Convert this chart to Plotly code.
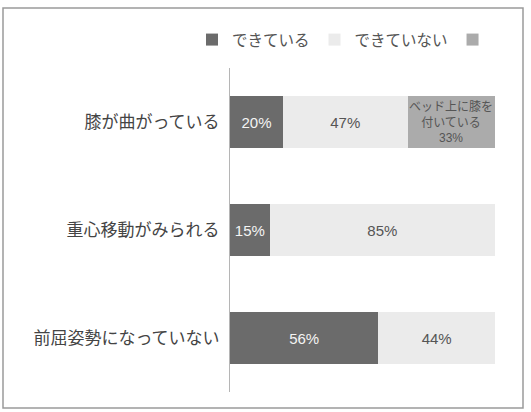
import plotly.graph_objects as go

# Survey items (top to bottom) and the share of each response, in percent
items = ["膝が曲がっている", "重心移動がみられる", "前屈姿勢になっていない"]
done = [20, 15, 56]
not_done = [47, 85, 44]
knee_on_bed = [33, None, None]

series_names = ["できている", "できていない", " "]
knee_label = "ベッド上に膝を<br>付いている<br>"

W, H = 531, 412
L, R, T, B = 230, 36, 68, 20
plot_w = W - L - R
plot_h = H - T - B


def px_x(x):
    return (x - L) / plot_w


def px_y(y):
    return (H - B - y) / plot_h


FONT = "Liberation Sans, Arial, Noto Sans CJK JP, sans-serif"

fig = go.Figure()
fig.add_trace(go.Bar(
    y=items, x=done, orientation="h", name=series_names[0],
    marker=dict(color="#6b6b6b", line=dict(width=0)),
    text=[f"{v}%" for v in done], textposition="inside",
    insidetextanchor="middle", textangle=0,
    textfont=dict(color="#f4f4f4", size=15, family=FONT),
))
fig.add_trace(go.Bar(
    y=items, x=not_done, orientation="h", name=series_names[1],
    marker=dict(color="#ebebeb", line=dict(width=0)),
    text=[f"{v}%" for v in not_done], textposition="inside",
    insidetextanchor="middle", textangle=0,
    textfont=dict(color="#555555", size=15, family=FONT),
))
fig.add_trace(go.Bar(
    y=items, x=knee_on_bed, orientation="h", name=series_names[2],
    marker=dict(color="#ababab", line=dict(width=0)),
))

# Label of the third segment, centred on that segment
annotations = []
for item, a, b, c in zip(items, done, not_done, knee_on_bed):
    if c:
        annotations.append(dict(
            x=a + b + c / 2, y=item, xref="x", yref="y",
            text=f"{knee_label}{c}%", showarrow=False,
            font=dict(color="#555555", size=12, family=FONT),
            align="center",
        ))

fig.update_layout(
    width=W, height=H,
    margin=dict(l=L, r=R, t=T, b=B),
    barmode="stack", bargap=0.51,
    paper_bgcolor="white", plot_bgcolor="white",
    font=dict(family=FONT, color="#444444"),
    showlegend=True,
    legend=dict(
        orientation="h", x=px_x(192), y=px_y(40),
        xanchor="left", yanchor="middle",
        font=dict(size=15.5, color="#555555", family=FONT),
        traceorder="normal", itemwidth=30,
        bgcolor="rgba(0,0,0,0)",
    ),
    xaxis=dict(range=[0, 100], visible=False, fixedrange=True),
    yaxis=dict(
        autorange="reversed", showline=True, linecolor="#b5b5b5",
        linewidth=1, ticks="", showgrid=False, zeroline=False,
        tickfont=dict(size=17, color="#444444", family=FONT),
        ticklabelstandoff=6,
    ),
    annotations=annotations,
    shapes=[
        dict(type="rect", xref="paper", yref="paper",
             x0=px_x(3), x1=px_x(523), y0=px_y(408), y1=px_y(8),
             line=dict(color="#9a9a9a", width=1.5), layer="below"),
    ],
)

fig.write_html("out.html")
